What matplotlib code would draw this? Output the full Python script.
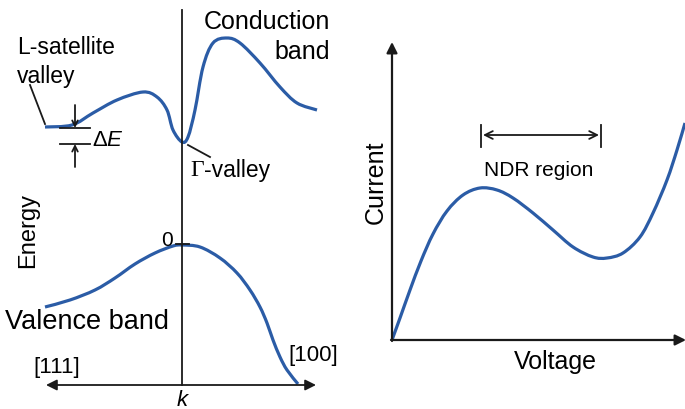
import matplotlib.pyplot as plt
from matplotlib.path import Path
from matplotlib.patches import PathPatch

plt.rcParams['font.family'] = 'Liberation Sans'
plt.rcParams['mathtext.fontset'] = 'custom'
plt.rcParams['mathtext.rm'] = 'Liberation Sans'
plt.rcParams['mathtext.it'] = 'Liberation Sans:italic'

blue = '#2b5ca6'

# band diagram curves (pixel coords, y down)
cond_x = [45, 72, 93, 117, 143, 157, 167, 173, 182, 188, 195, 203, 213, 227, 240, 260,
          280, 297, 317]
cond_y = [127, 125, 113, 100, 92, 97, 110, 130, 142, 137, 110, 67, 43, 38, 43, 63,
          87, 103, 110]

val_x = [45, 70, 95, 115, 135, 155, 173, 182, 200, 220, 237, 250, 260, 267, 273, 280,
         287, 298]
val_y = [307, 300, 290, 278, 264, 253, 246, 245, 247, 258, 273, 290, 307, 323, 340, 357,
         370, 384]

# I-V curve
iv_x = [392, 400, 410, 421, 433, 447, 463, 480, 497, 513, 533, 553, 573, 593, 607, 623,
        640, 653, 667, 677, 685]
iv_y = [340, 318, 290, 261, 234, 211, 195, 188, 190, 198, 213, 230, 247, 257, 258, 253,
        237, 213, 180, 150, 123]


def smooth_path(xs, ys):
    # cubic bezier segments through the read points (Catmull-Rom handles)
    pts = list(zip(xs, ys))
    verts = [pts[0]]
    codes = [Path.MOVETO]
    n = len(pts)
    for i in range(n - 1):
        p0 = pts[i - 1] if i > 0 else pts[i]
        p1 = pts[i]
        p2 = pts[i + 1]
        p3 = pts[i + 2] if i + 2 < n else pts[i + 1]
        c1 = (p1[0] + (p2[0] - p0[0]) / 6, p1[1] + (p2[1] - p0[1]) / 6)
        c2 = (p2[0] - (p3[0] - p1[0]) / 6, p2[1] - (p3[1] - p1[1]) / 6)
        verts += [c1, c2, p2]
        codes += [Path.CURVE4] * 3
    return Path(verts, codes)


fig = plt.figure(figsize=(6.85, 4.09), dpi=100)
ax = fig.add_axes([0, 0, 1, 1])
ax.set_xlim(0, 685)
ax.set_ylim(409, 0)
ax.axis('off')

k = dict(color='#1a1a1a', lw=1.3)

# left panel axes
ax.plot([182, 182], [10, 385], **k)
ax.annotate('', xy=(46, 385), xytext=(316, 385),
            arrowprops=dict(arrowstyle='<|-|>', color='#1a1a1a', lw=1.3,
                            mutation_scale=16, shrinkA=0, shrinkB=0))
ax.plot([176, 189], [244, 244], **k)
ax.text(173, 240, '0', fontsize=15, ha='right', va='center')

for xs, ys in [(cond_x, cond_y), (val_x, val_y), (iv_x, iv_y)]:
    ax.add_patch(PathPatch(smooth_path(xs, ys), fill=False, edgecolor=blue, lw=2.3,
                           capstyle='butt', clip_on=False))

# delta E marker
ax.plot([60, 90], [128, 128], **k)
ax.plot([60, 90], [144, 144], **k)
ax.annotate('', xy=(75, 128), xytext=(75, 105),
            arrowprops=dict(arrowstyle='->', color='#1a1a1a', lw=1.3, shrinkA=0, shrinkB=0))
ax.annotate('', xy=(75, 144), xytext=(75, 167),
            arrowprops=dict(arrowstyle='->', color='#1a1a1a', lw=1.3, shrinkA=0, shrinkB=0))
ax.text(92, 141, r'$\Delta E$', fontsize=16, ha='left', va='center')

# leaders
ax.plot([30, 45], [85, 124], **k)
ax.plot([188, 210], [145, 157], **k)

ax.text(17, 48, 'L-satellite', fontsize=16.5, ha='left', va='center')
ax.text(17, 76, 'valley', fontsize=16.5, ha='left', va='center')
ax.text(190, 171, 'Γ', fontsize=17, family='Liberation Serif', ha='left', va='center')
ax.text(204, 171, '-valley', fontsize=16.5, ha='left', va='center')
ax.text(330, 22, 'Conduction', fontsize=18, ha='right', va='center')
ax.text(330, 52, 'band', fontsize=18, ha='right', va='center')
ax.text(5, 322, 'Valence band', fontsize=19.5, ha='left', va='center')
ax.text(28, 230, 'Energy', fontsize=17, rotation=90, ha='center', va='center')
ax.text(57, 367, '[111]', fontsize=16, ha='center', va='center')
ax.text(313, 356, '[100]', fontsize=16, ha='center', va='center')
ax.text(182, 400, 'k', fontsize=16, style='italic', ha='center', va='center')

# right panel axes
ax.annotate('', xy=(392, 42), xytext=(392, 341),
            arrowprops=dict(arrowstyle='-|>', color='#1a1a1a', lw=1.6,
                            mutation_scale=16, shrinkA=0, shrinkB=0))
ax.annotate('', xy=(686, 340), xytext=(391, 340), annotation_clip=False,
            arrowprops=dict(arrowstyle='-|>', color='#1a1a1a', lw=1.6,
                            mutation_scale=16, shrinkA=0, shrinkB=0))

ax.plot([481, 481], [125, 147], **k)
ax.plot([601, 601], [125, 147], **k)
ax.annotate('', xy=(483, 135), xytext=(599, 135),
            arrowprops=dict(arrowstyle='<->', color='#1a1a1a', lw=1.3,
                            mutation_scale=14, shrinkA=0, shrinkB=0))
ax.text(539, 170, 'NDR region', fontsize=15, ha='center', va='center')
ax.text(555, 362, 'Voltage', fontsize=18, ha='center', va='center')
ax.text(376, 182, 'Current', fontsize=18, rotation=90, ha='center', va='center')

fig.savefig('out.png', dpi=100)
